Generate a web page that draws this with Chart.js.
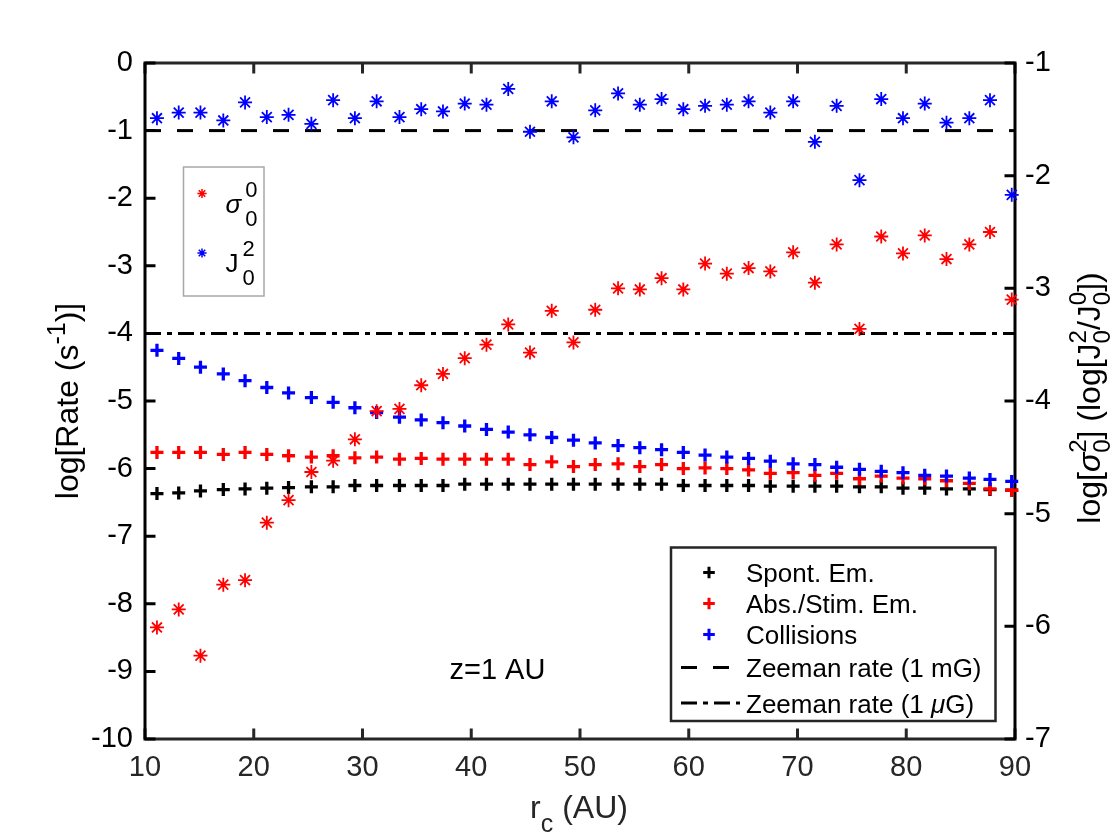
<!DOCTYPE html>
<html>
<head>
<meta charset="utf-8">
<title>Rates vs r_c</title>
<script src="https://cdn.jsdelivr.net/npm/chart.js@4.4.1/dist/chart.umd.min.js"></script>
<style>
  html, body { margin: 0; padding: 0; background: #fff; }
  canvas { display: block; }
</style>
</head>
<body>
<canvas id="rateChart" width="1120" height="840"></canvas>
<script>
// r_c (AU) of every model point
const rc = [11.1, 13.1, 15.1, 17.2, 19.2, 21.2, 23.2, 25.3, 27.3, 29.3,
            31.3, 33.4, 35.4, 37.4, 39.4, 41.4, 43.4, 45.4, 47.4, 49.4,
            51.4, 53.5, 55.5, 57.5, 59.5, 61.5, 63.5, 65.5, 67.5, 69.6,
            71.6, 73.6, 75.7, 77.7, 79.7, 81.7, 83.7, 85.8, 87.7, 89.7];

// left axis, log[Rate (s^-1)]
const spontEm = [-6.37, -6.36, -6.33, -6.31, -6.30, -6.29, -6.28, -6.27, -6.27, -6.25,
                 -6.25, -6.25, -6.25, -6.25, -6.23, -6.23, -6.23, -6.23, -6.23, -6.23,
                 -6.23, -6.23, -6.23, -6.23, -6.25, -6.25, -6.25, -6.25, -6.26, -6.26,
                 -6.26, -6.26, -6.27, -6.27, -6.29, -6.29, -6.30, -6.30, -6.31, -6.32];
const absStim = [-5.76, -5.76, -5.76, -5.79, -5.76, -5.79, -5.81, -5.83, -5.81, -5.84,
                 -5.83, -5.86, -5.85, -5.86, -5.86, -5.86, -5.86, -5.94, -5.90, -5.97,
                 -5.94, -5.93, -5.97, -5.94, -6.00, -5.99, -6.00, -6.02, -6.07, -6.06,
                 -6.10, -6.07, -6.15, -6.11, -6.14, -6.15, -6.18, -6.22, -6.30, -6.32];
const collisions = [-4.25, -4.37, -4.50, -4.60, -4.70, -4.80, -4.88, -4.95, -5.02, -5.10,
                    -5.17, -5.24, -5.28, -5.32, -5.37, -5.42, -5.46, -5.50, -5.54, -5.58,
                    -5.62, -5.66, -5.69, -5.72, -5.76, -5.80, -5.83, -5.85, -5.89, -5.93,
                    -5.94, -5.98, -6.01, -6.04, -6.06, -6.10, -6.11, -6.14, -6.16, -6.19];

// right axis, log[sigma^2_0] (log[J^2_0/J^0_0])
const sigma00 = [-6.01, -5.85, -6.26, -5.63, -5.59, -5.08, -4.88, -4.63, -4.53, -4.34,
                 -4.09, -4.07, -3.86, -3.76, -3.62, -3.50, -3.32, -3.57, -3.20, -3.48,
                 -3.19, -3.00, -3.01, -2.91, -3.01, -2.78, -2.87, -2.82, -2.85, -2.68,
                 -2.95, -2.61, -3.36, -2.54, -2.69, -2.53, -2.74, -2.61, -2.50, -3.10];
const j20 = [-1.49, -1.44, -1.44, -1.51, -1.35, -1.48, -1.46, -1.54, -1.33, -1.49,
             -1.34, -1.48, -1.41, -1.43, -1.36, -1.37, -1.23, -1.61, -1.34, -1.66,
             -1.42, -1.27, -1.37, -1.32, -1.41, -1.38, -1.37, -1.34, -1.44, -1.34,
             -1.70, -1.38, -2.04, -1.32, -1.49, -1.36, -1.53, -1.49, -1.33, -2.17];

// Zeeman rates (left axis), drawn across the whole x range
const zeemanX = [10, 90];
const zeeman1mG = -1;
const zeeman1uG = -4;

// texts
const xTitle = ['r', { sub: 'c' }, ' (AU)'];
const yTitle = ['log[Rate (s', { sup: '-1' }, ')]'];
const y2Title = ['log[', { t: 'σ', it: true }, { sup: '2', sub: '0' }, '] (log[J', { sup: '2', sub: '0' },
                 '/J', { sup: '0', sub: '0' }, '])'];
const starLegend = [[{ t: 'σ', it: true }, { sup: '0', sub: '0' }], ['J', { sup: '2', sub: '0' }]];
const rateLegend = [['Spont. Em.'], ['Abs./Stim. Em.'], ['Collisions'], ['Zeeman rate (1 mG)'],
                    ['Zeeman rate (1 ', { t: 'μ', it: true }, 'G)']];
const note = 'z=1 AU';
const noteAt = { x: 38, y: -9 };

const FONT = '"Liberation Sans", Arial, Helvetica, sans-serif';
const DASH = [16, 16];
const DASHDOT = [16, 6, 5, 6];

function pts(ys) { return rc.map((x, i) => ({ x: x, y: ys[i] })); }
function flat(y) { return zeemanX.map(x => ({ x: x, y: y })); }
function fontStr(size, italic) { return (italic ? 'italic ' : '') + size + 'px ' + FONT; }

// small rich-text helper for sub/superscripts
function partWidth(ctx, p, st) {
    if (typeof p === 'string') { ctx.font = fontStr(st.size); return ctx.measureText(p).width; }
    if (p.t !== undefined) { ctx.font = fontStr(st.size, p.it); return ctx.measureText(p.t).width; }
    ctx.font = fontStr(st.ssize || st.size * st.scale);
    return (st.gap || 0) + Math.max(p.sup ? ctx.measureText(p.sup).width : 0,
                                    p.sub ? ctx.measureText(p.sub).width : 0);
}
function drawRich(ctx, parts, x, y, st, align) {
    let cx = x;
    if (align === 'center') {
        let w = 0;
        parts.forEach(p => { w += partWidth(ctx, p, st); });
        cx -= w / 2;
    }
    ctx.textAlign = 'left';
    ctx.textBaseline = 'alphabetic';
    parts.forEach(p => {
        const pw = partWidth(ctx, p, st);
        if (typeof p === 'string' || p.t !== undefined) {
            ctx.font = fontStr(st.size, p.it);
            ctx.fillText(typeof p === 'string' ? p : p.t, cx, y);
        } else {
            const sx = cx + (st.gap || 0);
            ctx.font = fontStr(st.ssize || st.size * st.scale);
            if (p.sup) ctx.fillText(p.sup, sx, y - st.size * st.up);
            if (p.sub) ctx.fillText(p.sub, sx, y + st.size * st.down);
        }
        cx += pw;
    });
}

function marker(ctx, style, r, lw, color, x, y) {
    ctx.save();
    ctx.strokeStyle = color;
    ctx.fillStyle = color;
    ctx.lineWidth = lw;
    Chart.helpers.drawPoint(ctx, { pointStyle: style, radius: r, rotation: 0, borderWidth: lw }, x, y);
    ctx.restore();
}

const decorations = {
    id: 'decorations',
    beforeDatasetsDraw(chart) {
        const { ctx, chartArea: a, scales } = chart;
        const TL = 10.5;
        ctx.save();
        ctx.lineWidth = 3;
        ctx.lineCap = 'butt';
        // x ticks, top and bottom lines
        ctx.strokeStyle = '#262626';
        ctx.beginPath();
        scales.x.ticks.forEach(t => {
            const px = scales.x.getPixelForValue(t.value);
            ctx.moveTo(px, a.bottom); ctx.lineTo(px, a.bottom - TL);
            ctx.moveTo(px, a.top); ctx.lineTo(px, a.top + TL);
        });
        ctx.moveTo(a.left, a.top); ctx.lineTo(a.right, a.top);
        ctx.moveTo(a.left, a.bottom); ctx.lineTo(a.right, a.bottom);
        ctx.stroke();
        // y ticks, left and right lines
        ctx.strokeStyle = '#000';
        ctx.beginPath();
        scales.y.ticks.forEach(t => {
            const py = scales.y.getPixelForValue(t.value);
            ctx.moveTo(a.left, py); ctx.lineTo(a.left + TL, py);
        });
        scales.y2.ticks.forEach(t => {
            const py = scales.y2.getPixelForValue(t.value);
            ctx.moveTo(a.right, py); ctx.lineTo(a.right - TL, py);
        });
        ctx.moveTo(a.left, a.top - 1.5); ctx.lineTo(a.left, a.bottom + 1.5);
        ctx.moveTo(a.right, a.top - 1.5); ctx.lineTo(a.right, a.bottom + 1.5);
        ctx.stroke();
        ctx.restore();
    },
    afterDraw(chart) {
        const { ctx, chartArea: a, scales } = chart;
        const midY = (a.top + a.bottom) / 2;
        ctx.save();
        ctx.fillStyle = '#000';

        // axis titles
        const lab = { size: 32, scale: 0.78, up: 0.42, down: 0.45 };
        ctx.fillStyle = '#262626';
        drawRich(ctx, xTitle, (a.left + a.right) / 2 - 1, a.bottom + 79, lab, 'center');
        ctx.fillStyle = '#000';
        ctx.save();
        ctx.translate(a.left - 67, midY);
        ctx.rotate(-Math.PI / 2);
        drawRich(ctx, yTitle, 0, 0, lab, 'center');
        ctx.restore();
        ctx.save();
        ctx.translate(a.right + 85, midY - 3);
        ctx.rotate(-Math.PI / 2);
        drawRich(ctx, y2Title, 0, 0, { size: 32, scale: 0.75, up: 0.45, down: 0.3 }, 'center');
        ctx.restore();

        // annotation
        ctx.font = fontStr(29);
        ctx.textAlign = 'left';
        ctx.textBaseline = 'middle';
        ctx.fillText(note, scales.x.getPixelForValue(noteAt.x), scales.y.getPixelForValue(noteAt.y));

        // legend for the right-axis stars
        const l1 = { x: 183.5, y: 167, w: 80.5, h: 129 };
        ctx.fillStyle = '#fff';
        ctx.fillRect(l1.x, l1.y, l1.w, l1.h);
        ctx.strokeStyle = '#a8a8a8';
        ctx.lineWidth = 1.5;
        ctx.strokeRect(l1.x, l1.y, l1.w, l1.h);
        const starColors = ['#ff0000', '#0000ff'];
        starLegend.forEach((parts, i) => {
            const my = l1.y + 26.5 + i * 59.5;
            marker(ctx, 'star', 4.6, 1.5, starColors[i], l1.x + 18.5, my);
            ctx.fillStyle = '#000';
            drawRich(ctx, parts, l1.x + 42, my + 19,
                     { size: 26, ssize: 22, up: 0.6, down: 0.5, gap: 4 }, 'left');
        });

        // legend for the rates
        const l2 = { x: 671, y: 547.5, w: 324.5, h: 173.5 };
        ctx.fillStyle = '#fff';
        ctx.fillRect(l2.x, l2.y, l2.w, l2.h);
        ctx.strokeStyle = '#262626';
        ctx.lineWidth = 2.5;
        ctx.strokeRect(l2.x, l2.y, l2.w, l2.h);
        const rowY = [572.5, 603.5, 634.5, 667.5, 703];
        const plusColors = ['#000000', '#ff0000', '#0000ff'];
        rateLegend.forEach((parts, i) => {
            const y = rowY[i];
            if (i < 3) {
                marker(ctx, 'cross', 5.8, 3, plusColors[i], 709, y);
            } else {
                ctx.save();
                ctx.strokeStyle = '#000';
                ctx.lineWidth = 3;
                ctx.setLineDash(i === 3 ? DASH : DASHDOT);
                ctx.beginPath();
                ctx.moveTo(681, y);
                ctx.lineTo(i === 3 ? 729 : 740, y);
                ctx.stroke();
                ctx.restore();
            }
            ctx.fillStyle = '#000';
            drawRich(ctx, parts, 746, y + 9.5, { size: 26, scale: 0.8, up: 0.4, down: 0.3 }, 'left');
        });
        ctx.restore();
    }
};

const plus = { pointStyle: 'cross', pointRadius: 6.5, pointBorderWidth: 3.3, clip: false };
const star = { pointStyle: 'star', pointRadius: 7, pointBorderWidth: 1.8, clip: false };

const tickFont = { family: FONT, size: 29 };

new Chart(document.getElementById('rateChart').getContext('2d'), {
    type: 'scatter',
    data: {
        datasets: [
            Object.assign({ label: 'sigma00', data: pts(sigma00), yAxisID: 'y2',
                            borderColor: '#ff0000', backgroundColor: '#ff0000' }, star),
            Object.assign({ label: 'J20', data: pts(j20), yAxisID: 'y2',
                            borderColor: '#0000ff', backgroundColor: '#0000ff' }, star),
            Object.assign({ label: 'Collisions', data: pts(collisions), yAxisID: 'y',
                            borderColor: '#0000ff', backgroundColor: '#0000ff' }, plus),
            Object.assign({ label: 'Abs./Stim. Em.', data: pts(absStim), yAxisID: 'y',
                            borderColor: '#ff0000', backgroundColor: '#ff0000' }, plus),
            Object.assign({ label: 'Spont. Em.', data: pts(spontEm), yAxisID: 'y',
                            borderColor: '#000000', backgroundColor: '#000000' }, plus),
            { label: 'Zeeman rate (1 mG)', data: flat(zeeman1mG), yAxisID: 'y', showLine: true,
              pointRadius: 0, borderColor: '#000', borderWidth: 3, borderDash: DASH },
            { label: 'Zeeman rate (1 uG)', data: flat(zeeman1uG), yAxisID: 'y', showLine: true,
              pointRadius: 0, borderColor: '#000', borderWidth: 3, borderDash: DASHDOT }
        ]
    },
    options: {
        responsive: false,
        animation: false,
        events: [],
        layout: { padding: { top: 63, left: 0, right: 0, bottom: 0 } },
        plugins: { legend: { display: false }, tooltip: { enabled: false } },
        scales: {
            x: {
                type: 'linear', min: 10, max: 90,
                grid: { display: false, drawTicks: false },
                border: { display: false },
                ticks: { stepSize: 10, autoSkip: false, maxRotation: 0, font: tickFont,
                         color: '#262626', padding: 12, callback: v => String(v) },
                afterFit: s => { s.height = 101; }
            },
            y: {
                position: 'left', min: -10, max: 0,
                grid: { display: false, drawTicks: false },
                border: { display: false },
                ticks: { stepSize: 1, autoSkip: false, font: tickFont, color: '#000',
                         padding: 12, callback: v => String(v) },
                afterFit: s => { s.width = 145; }
            },
            y2: {
                position: 'right', min: -7, max: -1,
                grid: { display: false, drawTicks: false },
                border: { display: false },
                ticks: { stepSize: 1, autoSkip: false, font: tickFont, color: '#000',
                         padding: 10, callback: v => String(v) },
                afterFit: s => { s.width = 105; }
            }
        }
    },
    plugins: [decorations]
});
</script>
</body>
</html>
